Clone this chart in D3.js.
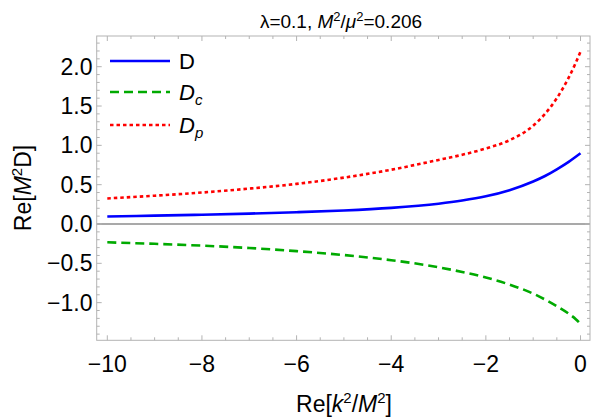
<!DOCTYPE html>
<html>
<head>
<meta charset="utf-8">
<script src="https://cdn.jsdelivr.net/npm/d3@7"></script>
<style>
  body { margin: 0; background: #fff; }
  svg { font-family: "Liberation Sans", Arial, sans-serif; }
</style>
</head>
<body>
<div id="chart"></div>
<script>
// values
var kVals  = [-10, -9, -8, -7, -6, -5, -4, -3, -2.5, -2, -1.5, -1, -0.75, -0.5, -0.25, -0.1, 0];
var dVals  = [0.095, 0.106, 0.118, 0.132, 0.150, 0.172, 0.205, 0.258, 0.298, 0.352, 0.43, 0.54, 0.61, 0.695, 0.79, 0.855, 0.90];
var dcVals = [-0.233, -0.252, -0.275, -0.305, -0.345, -0.395, -0.46, -0.55, -0.61, -0.68, -0.77, -0.885, -0.96, -1.045, -1.14, -1.21, -1.27];
var dpVals = [0.325, 0.36, 0.40, 0.45, 0.51, 0.59, 0.69, 0.815, 0.88, 0.96, 1.065, 1.25, 1.40, 1.60, 1.86, 2.05, 2.19];
var xTicks = [-10, -8, -6, -4, -2, 0];
var yTicks = [-1.0, -0.5, 0.0, 0.5, 1.0, 1.5, 2.0];

var W = 592, H = 419;
var frame = {left: 96.7, right: 590, top: 36, bottom: 340.3};

var x = d3.scaleLinear().domain([-10, 0]).range([107.3, 580.5]);
var y = d3.scaleLinear().domain([0, 2]).range([224, 66.7]);

var svg = d3.select('#chart').append('svg')
    .attr('width', W).attr('height', H);

// zero line
svg.append('line')
    .attr('x1', frame.left).attr('x2', frame.right)
    .attr('y1', y(0)).attr('y2', y(0))
    .attr('stroke', '#8c8c8c').attr('stroke-width', 1.6);

// frame
svg.append('rect')
    .attr('x', frame.left).attr('y', frame.top)
    .attr('width', frame.right - frame.left).attr('height', frame.bottom - frame.top)
    .attr('fill', 'none').attr('stroke', '#b3b3b3').attr('stroke-width', 1);

// ticks on all four sides
var ticks = svg.append('g').attr('stroke', '#b3b3b3').attr('stroke-width', 1);
d3.range(-10, 0.01, 0.5).forEach(function(v){
  var major = Math.abs(v % 2) < 1e-6, len = major ? 5 : 3;
  ticks.append('line').attr('x1', x(v)).attr('x2', x(v)).attr('y1', frame.bottom).attr('y2', frame.bottom - len);
  ticks.append('line').attr('x1', x(v)).attr('x2', x(v)).attr('y1', frame.top).attr('y2', frame.top + len);
});
d3.range(-1.4, 2.36, 0.1).forEach(function(v){
  var major = Math.abs(Math.round(v*10) % 5) == 0, len = major ? 5 : 3;
  ticks.append('line').attr('y1', y(v)).attr('y2', y(v)).attr('x1', frame.left).attr('x2', frame.left + len);
  ticks.append('line').attr('y1', y(v)).attr('y2', y(v)).attr('x1', frame.right).attr('x2', frame.right - len);
});

var fmtMinus = function(s){ return s.replace('-', '\u2212'); };

svg.append('g').selectAll('text').data(xTicks).enter().append('text')
    .attr('x', d => x(d)).attr('y', 372)
    .attr('text-anchor', 'middle').attr('font-size', 23)
    .text(d => fmtMinus(String(d)));

svg.append('g').selectAll('text').data(yTicks).enter().append('text')
    .attr('x', 92.5).attr('y', d => y(d) + 8)
    .attr('text-anchor', 'end').attr('font-size', 23)
    .text(d => fmtMinus(d.toFixed(1)));

// curves
var line = d3.line().curve(d3.curveMonotoneX)
    .x(function(d){ return x(d[0]); })
    .y(function(d){ return y(d[1]); });

var series = [
  {vals: dVals,  color: '#0000ff', dash: null},
  {vals: dcVals, color: '#00aa00', dash: '9,5'},
  {vals: dpVals, color: '#ff0000', dash: '3.5,3'}
];
series.forEach(function(s){
  svg.append('path')
     .datum(kVals.map((k, i) => [k, s.vals[i]]))
     .attr('d', line)
     .attr('fill', 'none')
     .attr('stroke', s.color)
     .attr('stroke-width', 2.6)
     .attr('stroke-dasharray', s.dash);
});

// legend
var legY = [61, 92, 125];
series.forEach(function(s, i){
  svg.append('line')
     .attr('x1', 110).attr('x2', 170).attr('y1', legY[i]).attr('y2', legY[i])
     .attr('stroke', s.color).attr('stroke-width', 2.6)
     .attr('stroke-dasharray', s.dash);
});
svg.append('text').attr('x', 179).attr('y', legY[0] + 8).attr('font-size', 22).text('D');
var lc = svg.append('text').attr('x', 179).attr('y', legY[1] + 8).attr('font-size', 22).attr('font-style', 'italic');
lc.append('tspan').text('D');
lc.append('tspan').attr('font-size', 15).attr('dy', 5).text('c');
var lp = svg.append('text').attr('x', 179).attr('y', legY[2] + 8).attr('font-size', 22).attr('font-style', 'italic');
lp.append('tspan').text('D');
lp.append('tspan').attr('font-size', 15).attr('dy', 5).text('p');

// title
var t = svg.append('text').attr('x', 341).attr('y', 28)
    .attr('text-anchor', 'middle').attr('font-size', 19);
t.append('tspan').text('\u03bb=0.1, ');
t.append('tspan').attr('font-style', 'italic').text('M');
t.append('tspan').attr('font-size', 13).attr('dy', -7).text('2');
t.append('tspan').attr('dy', 7).text('/');
t.append('tspan').attr('font-style', 'italic').text('\u03bc');
t.append('tspan').attr('font-size', 13).attr('dy', -7).text('2');
t.append('tspan').attr('dy', 7).text('=0.206');

// x label
var xl = svg.append('text').attr('x', 344).attr('y', 412)
    .attr('text-anchor', 'middle').attr('font-size', 23);
xl.append('tspan').text('Re[');
xl.append('tspan').attr('font-style', 'italic').text('k');
xl.append('tspan').attr('font-size', 15).attr('dy', -9).text('2');
xl.append('tspan').attr('dy', 9).text('/');
xl.append('tspan').attr('font-style', 'italic').text('M');
xl.append('tspan').attr('font-size', 15).attr('dy', -9).text('2');
xl.append('tspan').attr('dy', 9).text(']');

// y label
var yl = svg.append('text')
    .attr('transform', 'translate(31,188) rotate(-90)')
    .attr('text-anchor', 'middle').attr('font-size', 23);
yl.append('tspan').text('Re[');
yl.append('tspan').attr('font-style', 'italic').text('M');
yl.append('tspan').attr('font-size', 15).attr('dy', -9).text('2');
yl.append('tspan').attr('dy', 9).text('D]');
</script>
</body>
</html>
